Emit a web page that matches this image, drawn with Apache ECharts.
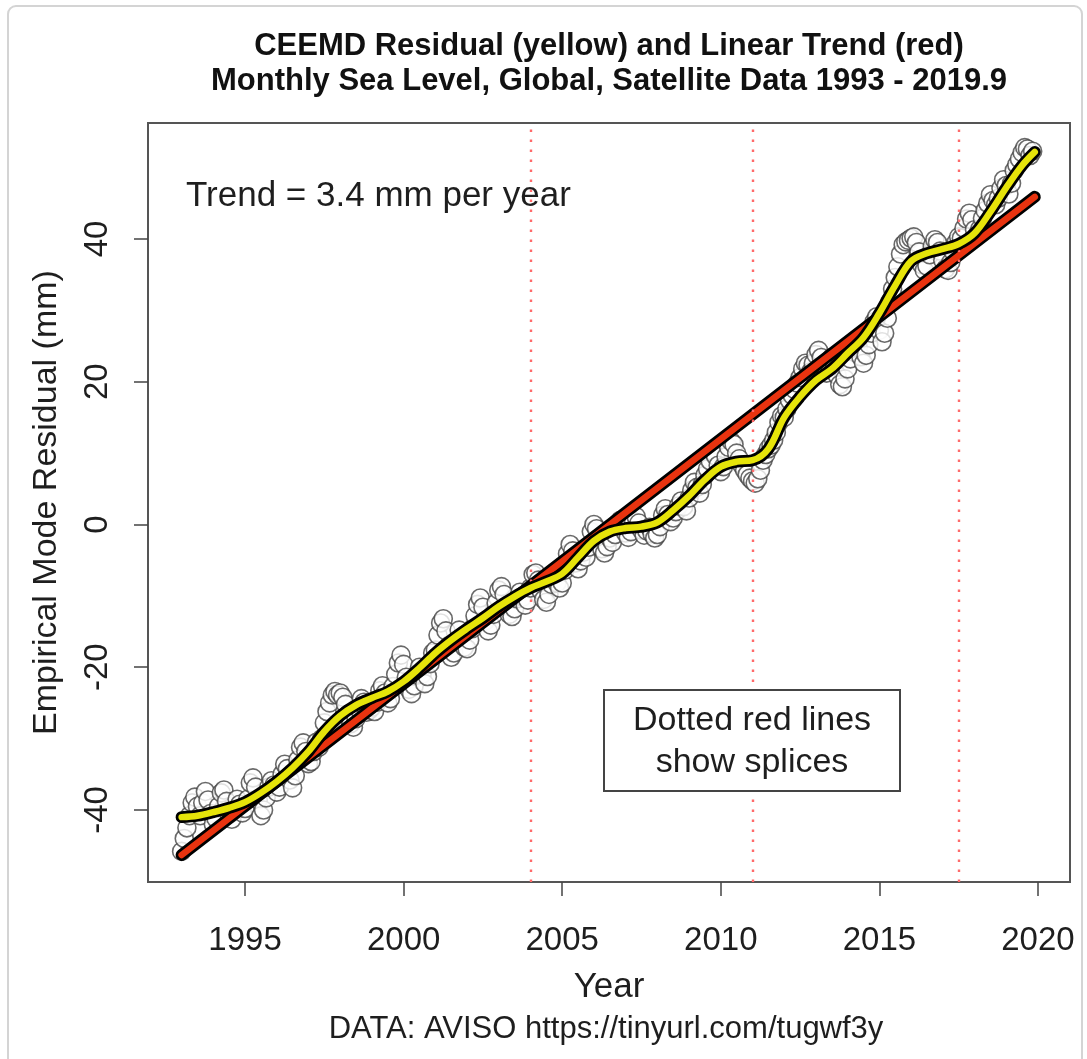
<!DOCTYPE html>
<html>
<head>
<meta charset="utf-8">
<script src="https://cdn.jsdelivr.net/npm/echarts@6/dist/echarts.min.js"></script>
<style>
html,body{margin:0;padding:0;background:#fff;}
#chart{width:1087px;height:1059px;}
</style>
</head>
<body>
<div id="chart"></div>
<script>
// ---- Data ----
var startYear = 1993;
// Monthly sea level values (mm), Jan 1993 .. Nov 2019
var monthly1993 = [-45.8, -44.0, -42.5, -40.8, -39.0, -38.2, -39.5, -40.8, -39.0, -37.4, -38.6, -40.5];
var monthly1994 = [-42.0, -41.2, -39.5, -37.6, -37.2, -38.8, -40.6, -41.3, -40.0, -38.5, -39.2, -40.4];
var monthly1995 = [-39.8, -38.5, -36.2, -35.5, -36.8, -38.6, -40.8, -40.0, -38.3, -36.8, -35.9, -36.5];
var monthly1996 = [-37.5, -36.8, -35.0, -33.6, -34.2, -35.8, -36.9, -35.2, -33.0, -31.2, -30.6, -31.8];
var monthly1997 = [-33.5, -33.2, -31.8, -30.5, -31.2, -30.0, -27.8, -26.2, -25.0, -23.9, -23.4, -23.9];
var monthly1998 = [-23.6, -24.2, -25.2, -26.6, -27.9, -28.4, -27.2, -25.8, -24.4, -24.9, -26.3, -26.0];
var monthly1999 = [-25.6, -26.2, -24.9, -23.3, -22.6, -23.6, -25.0, -24.4, -22.7, -21.0, -19.4, -18.3];
var monthly2000 = [-19.6, -21.4, -23.1, -23.7, -22.6, -21.1, -20.0, -21.0, -22.3, -21.3, -19.5, -18.0];
var monthly2001 = [-17.6, -15.5, -13.8, -13.2, -14.9, -17.0, -18.6, -18.0, -16.4, -14.8, -15.9, -17.2];
var monthly2002 = [-17.4, -16.2, -14.6, -12.8, -11.2, -10.3, -11.6, -13.5, -14.9, -14.1, -12.6, -11.0];
var monthly2003 = [-9.2, -8.7, -9.8, -11.4, -12.6, -12.9, -11.8, -10.4, -9.5, -10.2, -11.3, -10.6];
var monthly2004 = [-8.9, -7.0, -6.8, -7.8, -9.3, -10.5, -10.9, -9.8, -8.4, -7.6, -8.2, -8.9];
var monthly2005 = [-8.2, -6.4, -4.1, -2.8, -3.7, -5.4, -6.2, -5.1, -3.9, -4.6, -3.2, -1.0];
var monthly2006 = [0.0, -0.6, -1.9, -3.4, -4.0, -3.1, -1.9, -2.5, -1.4, 0.2, 0.6, -0.3];
var monthly2007 = [-1.2, -1.8, -1.0, 0.4, 1.1, 0.2, -0.8, -1.5, -0.9, -0.4, -1.3, -1.9];
var monthly2008 = [-1.4, -0.3, 1.3, 2.2, 1.4, 0.4, 0.9, 1.8, 2.6, 3.3, 2.5, 1.9];
var monthly2009 = [3.7, 4.8, 5.9, 5.2, 4.4, 5.6, 6.9, 7.8, 8.9, 10.2, 9.6, 8.3];
var monthly2010 = [7.4, 8.1, 9.5, 10.8, 11.6, 11.2, 10.0, 9.2, 8.3, 7.6, 7.0, 6.5];
var monthly2011 = [6.1, 5.8, 6.4, 7.6, 9.0, 9.8, 10.6, 11.1, 11.8, 12.9, 14.3, 15.2];
var monthly2012 = [15.0, 16.2, 17.4, 18.1, 18.9, 19.8, 20.6, 21.8, 22.6, 22.3, 21.4, 22.6];
var monthly2013 = [23.8, 24.4, 23.4, 22.0, 21.2, 22.3, 23.4, 22.5, 20.9, 19.6, 19.3, 20.4];
var monthly2014 = [21.8, 23.2, 24.7, 25.6, 24.8, 23.5, 22.6, 23.7, 25.2, 26.8, 28.4, 29.1];
var monthly2015 = [27.2, 25.6, 26.8, 28.9, 31.2, 33.0, 34.6, 36.1, 37.9, 39.2, 39.6, 39.8];
var monthly2016 = [40.1, 40.3, 39.5, 38.2, 36.4, 35.6, 36.2, 37.8, 39.0, 39.9, 39.5, 38.3];
var monthly2017 = [37.0, 35.8, 35.6, 36.7, 38.2, 39.5, 40.3, 40.1, 41.5, 42.8, 43.6, 42.7];
var monthly2018 = [41.3, 40.6, 41.4, 42.9, 44.0, 45.0, 46.2, 45.4, 44.8, 45.7, 47.1, 48.3];
var monthly2019 = [47.5, 46.3, 47.8, 49.6, 50.4, 51.2, 52.1, 52.8, 52.6, 51.7, 52.3];

// CEEMD residual (yellow curve), sampled every half year
var residualYears = [1993.0,1993.5,1994.0,1994.5,1995.0,1995.5,1996.0,1996.5,1997.0,1997.5,1998.0,1998.5,1999.0,1999.5,2000.0,2000.5,2001.0,2001.5,2002.0,2002.5,2003.0,2003.5,2004.0,2004.5,2005.0,2005.5,2006.0,2006.5,2007.0,2007.5,2008.0,2008.5,2009.0,2009.5,2010.0,2010.5,2011.0,2011.5,2012.0,2012.5,2013.0,2013.5,2014.0,2014.5,2015.0,2015.5,2016.0,2016.5,2017.0,2017.5,2018.0,2018.5,2019.0,2019.5,2019.9];
var residualValues = [-41.0,-40.8,-40.3,-39.7,-38.9,-37.6,-36.0,-34.1,-31.8,-29.0,-26.8,-25.3,-24.3,-23.4,-22.0,-20.1,-18.0,-16.2,-14.6,-13.1,-11.5,-10.1,-8.9,-8.0,-6.9,-4.6,-2.3,-1.0,-0.5,-0.3,0.3,2.0,4.0,6.3,8.1,8.8,9.0,10.6,15.0,17.9,20.2,21.8,24.0,26.2,29.6,33.5,36.9,38.0,38.6,39.3,40.8,43.8,47.2,50.3,52.2];

// Linear trend (red line) endpoints
var trendYears = [1993.0, 2019.9];
var trendValues = [-46.3, 45.9];

// Splice years (dotted red lines)
var spliceYears = [2004.0, 2011.0, 2017.5];

// Axis ticks
var xTicks = [1995, 2000, 2005, 2010, 2015, 2020];
var yTicks = [-40, -20, 0, 20, 40];

// ---- Build ----
var monthlyAll = [].concat(monthly1993, monthly1994, monthly1995, monthly1996, monthly1997,
  monthly1998, monthly1999, monthly2000, monthly2001, monthly2002, monthly2003, monthly2004,
  monthly2005, monthly2006, monthly2007, monthly2008, monthly2009, monthly2010, monthly2011,
  monthly2012, monthly2013, monthly2014, monthly2015, monthly2016, monthly2017, monthly2018, monthly2019);
var scatterData = monthlyAll.map(function (v, i) { return [startYear + i / 12, v]; });
var residualData = residualYears.map(function (y, i) { return [y, residualValues[i]]; });
var trendData = trendYears.map(function (y, i) { return [y, trendValues[i]]; });

var FONT = '"Liberation Sans", Arial, Helvetica, sans-serif';
var TXT = '#1e1e1e';

var chart = echarts.init(document.getElementById('chart'), null, {renderer: 'canvas'});
var option = {
  animation: false,
  backgroundColor: '#ffffff',
  grid: {left: 148, right: 17, top: 123, bottom: 177, show: true, borderColor: '#555', borderWidth: 2, backgroundColor: 'transparent'},
  xAxis: {
    type: 'value', min: 1991.94, max: 2021.01,
    name: 'Year', nameLocation: 'middle', nameGap: 88,
    nameTextStyle: {fontFamily: FONT, fontSize: 35, color: TXT},
    axisLine: {show: false, onZero: false},
    splitLine: {show: false},
    axisTick: {show: true, length: 14, lineStyle: {color: '#444', width: 1.5}, customValues: xTicks},
    axisLabel: {fontFamily: FONT, fontSize: 33, color: TXT, margin: 42, customValues: xTicks,
      formatter: function (v) { return String(v); }}
  },
  yAxis: {
    type: 'value', min: -50.09, max: 56.25,
    name: 'Empirical Mode Residual (mm)', nameLocation: 'middle', nameGap: 84,
    nameTextStyle: {fontFamily: FONT, fontSize: 34, color: TXT},
    axisLine: {show: false, onZero: false},
    splitLine: {show: false},
    axisTick: {show: true, length: 14, lineStyle: {color: '#444', width: 1.5}, customValues: yTicks},
    axisLabel: {fontFamily: FONT, fontSize: 33, color: TXT, margin: 34, rotate: 90, customValues: yTicks,
      formatter: function (v) { return String(v); }}
  },
  series: [
    {
      type: 'scatter', data: scatterData, symbol: 'circle', symbolSize: 18, z: 2,
      itemStyle: {color: '#ffffff', borderColor: '#444', borderWidth: 1.6}
    },
    {
      type: 'line', data: trendData, showSymbol: false, z: 3,
      lineStyle: {color: '#000', width: 12, cap: 'round'}
    },
    {
      type: 'line', data: trendData, showSymbol: false, z: 4,
      lineStyle: {color: '#e8330f', width: 6.5, cap: 'round'}
    },
    {
      type: 'line', data: residualData, showSymbol: false, smooth: 0.35, z: 5,
      lineStyle: {color: '#000', width: 12, cap: 'round', join: 'round'}
    },
    {
      type: 'line', data: residualData, showSymbol: false, smooth: 0.35, z: 6,
      lineStyle: {color: '#e6e40a', width: 6.5, cap: 'round', join: 'round'}
    },
    {
      type: 'line', data: [], z: 8,
      markLine: {
        silent: true, symbol: ['none', 'none'], label: {show: false}, animation: false,
        lineStyle: {color: '#ff6a6a', width: 2.4, type: [2.5, 7.5]},
        data: spliceYears.map(function (y) { return {xAxis: y}; })
      }
    }
  ],
  graphic: [
    {type: 'rect', shape: {x: 8, y: 6, width: 1074, height: 1070, r: 8}, style: {fill: 'none', stroke: '#d4d4d4', lineWidth: 2}, z: -10},
    {type: 'text', x: 609, y: 46, style: {text: 'CEEMD Residual (yellow) and Linear Trend (red)', font: 'bold 31px ' + FONT, fill: '#111', textAlign: 'center', textVerticalAlign: 'middle'}},
    {type: 'text', x: 609, y: 81, style: {text: 'Monthly Sea Level, Global, Satellite Data 1993 - 2019.9', font: 'bold 31px ' + FONT, fill: '#111', textAlign: 'center', textVerticalAlign: 'middle'}},
    {type: 'text', x: 186, y: 196, z: 10, style: {text: 'Trend = 3.4 mm per year', font: '35px ' + FONT, fill: TXT, textAlign: 'left', textVerticalAlign: 'middle'}},
    {type: 'rect', z: 10, shape: {x: 604, y: 690, width: 296, height: 101}, style: {fill: '#fff', stroke: '#444', lineWidth: 2}},
    {type: 'text', x: 752, y: 721, z: 11, style: {text: 'Dotted red lines', font: '34px ' + FONT, fill: TXT, textAlign: 'center', textVerticalAlign: 'middle'}},
    {type: 'text', x: 752, y: 763, z: 11, style: {text: 'show splices', font: '34px ' + FONT, fill: TXT, textAlign: 'center', textVerticalAlign: 'middle'}},
    {type: 'text', x: 606, y: 1029, style: {text: 'DATA: AVISO https://tinyurl.com/tugwf3y', font: '31px ' + FONT, fill: TXT, textAlign: 'center', textVerticalAlign: 'middle'}}
  ]
};
chart.setOption(option);
</script>
</body>
</html>
